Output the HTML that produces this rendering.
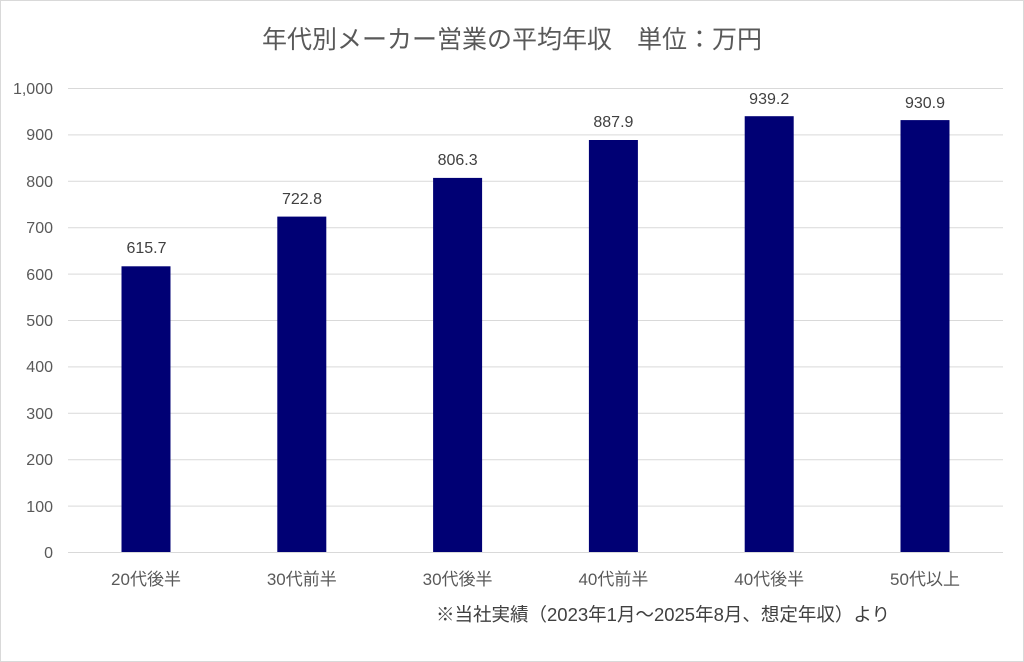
<!DOCTYPE html>
<html><head><meta charset="utf-8"><style>
html,body{margin:0;padding:0;background:#fff;}
svg{display:block;font-family:"Liberation Sans","Noto Sans CJK JP",sans-serif;}
</style></head><body>
<svg width="1024" height="662" viewBox="0 0 1024 662">
<rect x="0.5" y="0.5" width="1023" height="661" fill="#fff" stroke="#d9d9d9"/>
<text x="512" y="48" text-anchor="middle" font-size="25" fill="#595959">年代別メーカー営業の平均年収　単位：万円</text>
<g stroke="#d9d9d9" stroke-width="1">
<line x1="68" x2="1003" y1="88.5" y2="88.5"/>
<line x1="68" x2="1003" y1="134.9" y2="134.9"/>
<line x1="68" x2="1003" y1="181.3" y2="181.3"/>
<line x1="68" x2="1003" y1="227.7" y2="227.7"/>
<line x1="68" x2="1003" y1="274.1" y2="274.1"/>
<line x1="68" x2="1003" y1="320.5" y2="320.5"/>
<line x1="68" x2="1003" y1="366.9" y2="366.9"/>
<line x1="68" x2="1003" y1="413.3" y2="413.3"/>
<line x1="68" x2="1003" y1="459.7" y2="459.7"/>
<line x1="68" x2="1003" y1="506.1" y2="506.1"/>
<line x1="68" x2="1003" y1="552.5" y2="552.5"/>
</g>
<g font-size="16" fill="#595959" text-anchor="end">
<text x="53" y="94">1,000</text><text x="53" y="140">900</text><text x="53" y="187">800</text>
<text x="53" y="233">700</text><text x="53" y="280">600</text><text x="53" y="326">500</text>
<text x="53" y="372">400</text><text x="53" y="419">300</text><text x="53" y="465">200</text>
<text x="53" y="512">100</text><text x="53" y="558">0</text>
</g>
<g fill="#000074">
<rect x="121.5" y="266.3" width="49" height="285.7"/>
<rect x="277.3" y="216.6" width="49" height="335.4"/>
<rect x="433.1" y="177.9" width="49" height="374.1"/>
<rect x="588.9" y="140.0" width="49" height="412.0"/>
<rect x="744.7" y="116.2" width="49" height="435.8"/>
<rect x="900.5" y="120.1" width="49" height="431.9"/>
</g>
<g font-size="16" fill="#404040" text-anchor="middle">
<text x="146.5" y="253">615.7</text><text x="302" y="204">722.8</text><text x="457.6" y="165">806.3</text>
<text x="613.4" y="127">887.9</text><text x="769.2" y="104">939.2</text><text x="925" y="108">930.9</text>
</g>
<g font-size="17" fill="#595959" text-anchor="middle">
<text x="146" y="585">20代後半</text><text x="301.8" y="585">30代前半</text><text x="457.6" y="585">30代後半</text>
<text x="613.4" y="585">40代前半</text><text x="769.2" y="585">40代後半</text><text x="925" y="585">50代以上</text>
</g>
<text x="436" y="621" font-size="18.5" fill="#404040">※当社実績（2023年1月～2025年8月、想定年収）より</text>
</svg>
</body></html>
